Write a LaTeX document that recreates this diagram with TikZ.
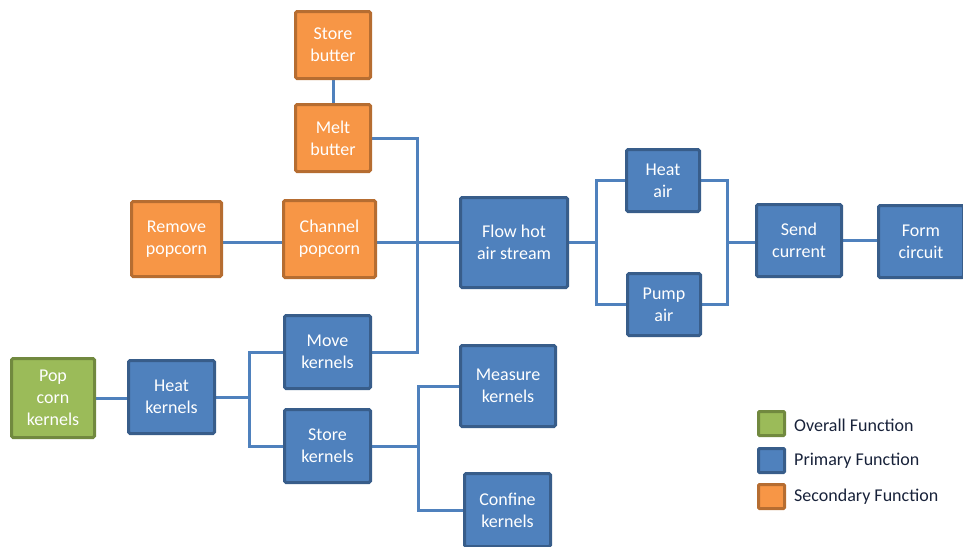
\documentclass[tikz,border=0pt]{standalone}
\usepackage{fontspec}
\setmainfont{Carlito}
\usetikzlibrary{backgrounds}
\definecolor{pfill}{HTML}{4F81BD}
\definecolor{pdraw}{HTML}{385D8A}
\definecolor{sfill}{HTML}{F79646}
\definecolor{sdraw}{HTML}{B66D31}
\definecolor{ofill}{HTML}{9BBB59}
\definecolor{odraw}{HTML}{71893F}
\definecolor{lgtext}{HTML}{18223A}
\tikzset{
  fbox/.style={draw, line width=3pt, rounded corners=1.5pt, inner sep=0pt, outer sep=0pt,
    align=center, text=white, font=\fontsize{18}{22}\selectfont},
  prim/.style={fbox, fill=pfill, draw=pdraw},
  second/.style={fbox, fill=sfill, draw=sdraw},
  overall/.style={fbox, fill=ofill, draw=odraw},
  sz/.style n args={2}{minimum width=#1, minimum height=#2},
  conn/.style={draw=pfill, line width=3pt},
  lgbox/.style={draw, line width=3pt, rounded corners=1pt, minimum width=26pt, minimum height=24pt, inner sep=0pt, outer sep=0pt},
  lgtext/.style={anchor=west, inner sep=0pt, text=lgtext, font=\fontsize{18}{22}\selectfont}
}
\begin{document}
\begin{tikzpicture}[x=1pt, y=-1pt]
\useasboundingbox (0,0) rectangle (963,546);
\clip (0,0) rectangle (963,546);

% secondary functions
\node[second, sz={75pt}{67pt}] (sb) at (333,45) {Store\\butter};
\node[second, sz={75pt}{67pt}] (mb) at (333,138) {Melt\\butter};
\node[second, sz={90pt}{75pt}] (rp) at (176.5,239) {Remove\\popcorn};
\node[second, sz={92pt}{77pt}] (cp) at (329.5,239) {Channel\\popcorn};

% primary functions
\node[prim, sz={107pt}{90pt}] (fl) at (514,242.5) {Flow hot\\air stream};
\node[prim, sz={73pt}{62pt}] (ha) at (663,180.5) {Heat\\air};
\node[prim, sz={73pt}{62pt}] (pa) at (664,304.5) {Pump\\air};
\node[prim, sz={85pt}{72pt}] (sc) at (799,240.5) {Send\\current};
\node[prim, sz={85pt}{72pt}] (fc) at (921,241.5) {Form\\circuit};
\node[prim, sz={86pt}{73pt}] (hk) at (171.5,397) {Heat\\kernels};
\node[prim, sz={86pt}{73pt}] (mk) at (327.5,352) {Move\\kernels};
\node[prim, sz={86pt}{73pt}] (sk) at (327.5,446) {Store\\kernels};
\node[prim, sz={95pt}{81pt}] (ms) at (508,386) {Measure\\kernels};
\node[prim, sz={86pt}{73pt}] (cf) at (507.5,510) {Confine\\kernels};

% overall function
\node[overall, sz={83pt}{79pt}] (pk) at (53,398) {Pop\\corn\\kernels};

% branch points
\coordinate (tk) at (417,242);
\coordinate (lb) at (596,242);
\coordinate (rb) at (727,242);
\coordinate (kb) at (249,397);
\coordinate (ksb) at (418,446);

\begin{scope}[on background layer]
\draw[conn] (sb) -- (mb);
\draw[conn] (mb.east) -| (tk) |- (mk.east);
\draw[conn] (rp.east |- tk) -- (cp.west |- tk);
\draw[conn] (cp.east |- tk) -- (fl.west |- tk);
\draw[conn] (fl.east |- lb) -- (lb);
\draw[conn] (ha.west) -| (lb) |- (pa.west);
\draw[conn] (ha.east) -| (rb) |- (pa.east);
\draw[conn] (rb) -- (sc.west |- rb);
\draw[conn] (sc.east) -- (fc.west |- sc.east);
\draw[conn] (pk.east) -- (pk.east -| hk.west);
\draw[conn] (hk.east) -- (kb);
\draw[conn] (mk.west) -| (kb) |- (sk.west);
\draw[conn] (sk.east) -- (ksb);
\draw[conn] (ms.west) -| (ksb) |- (cf.west);
\end{scope}

% legend
\node[lgbox, fill=ofill, draw=odraw] (lg1) at (771.5,423.5) {};
\node[lgbox, fill=pfill, draw=pdraw] (lg2) at (771.5,460.5) {};
\node[lgbox, fill=sfill, draw=sdraw] (lg3) at (771.5,496.5) {};
\node[lgtext] (lt1) at (794,425) {Overall Function};
\node[lgtext] (lt2) at (794,461) {Primary Function};
\node[lgtext] (lt3) at (794,497) {Secondary Function};
\end{tikzpicture}
\end{document}
